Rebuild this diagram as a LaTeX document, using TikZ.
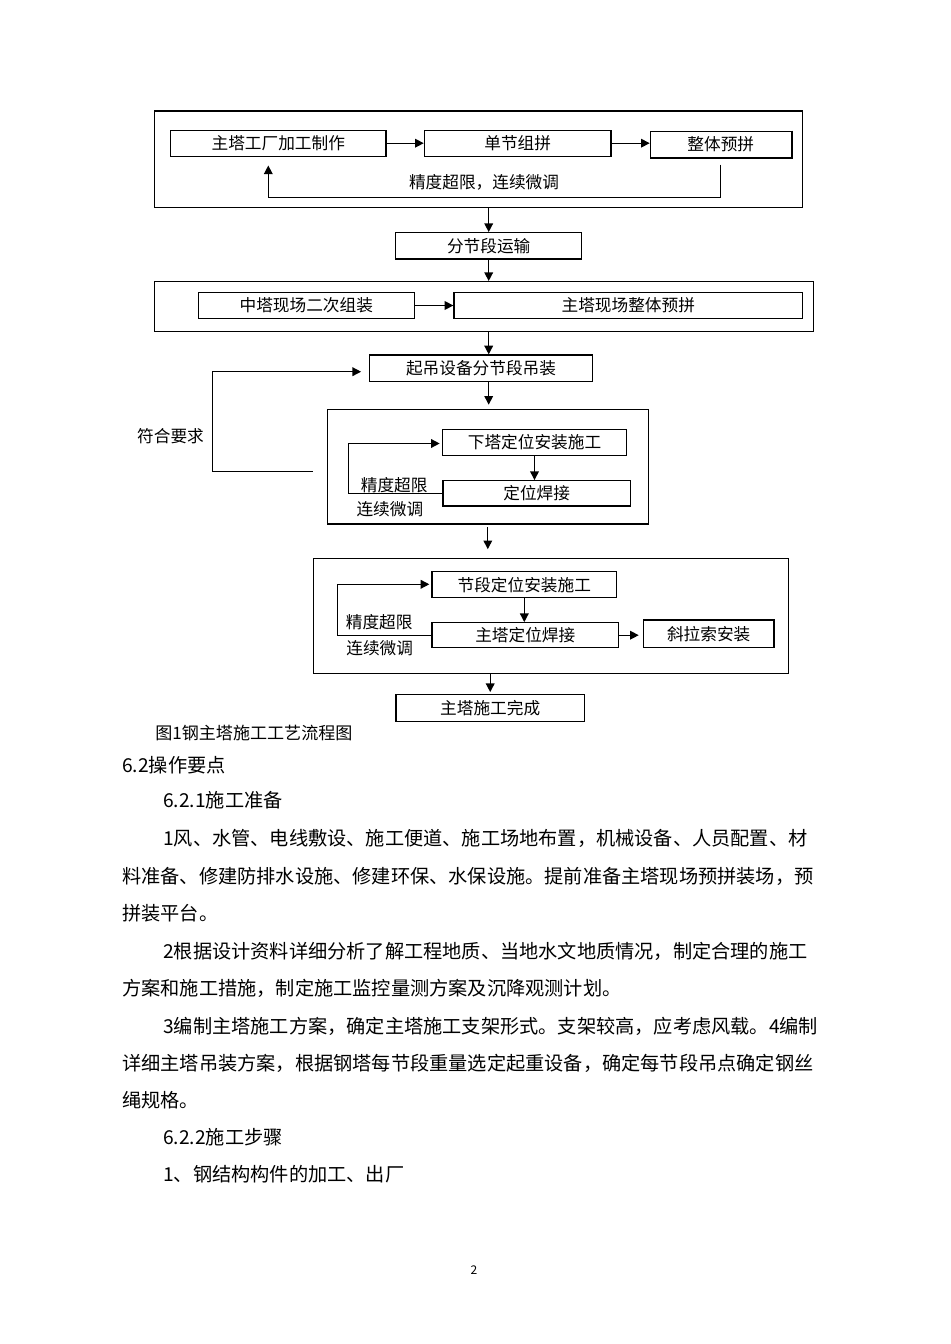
\documentclass[tikz,border=0pt]{standalone}
\usepackage{fontspec}
\setmainfont{Noto Sans CJK SC}
\usetikzlibrary{arrows.meta}
\newdimen\pxu \pxu=0.75pt
\tikzset{
  box/.style = {draw, line width=0.9pt, inner sep=0pt,
                minimum height=26\pxu, font=\fontsize{12.5}{14}\selectfont},
  frame/.style = {draw, line width=1pt, inner sep=0pt},
  arr/.style = {line width=1pt, -{Triangle[length=6.5pt,width=6.5pt]}},
  lbl/.style = {inner sep=0pt, font=\fontsize{12.5}{14}\selectfont},
  txt/.style = {anchor=west, inner sep=0pt, font=\fontsize{14.4}{16}\selectfont}
}

\begin{document}
\begin{tikzpicture}[x=0.75pt, y=-0.75pt]
	\useasboundingbox[fill=white] (0,0) rectangle (950,1344);
	
	% Factory
	\node[frame, minimum width=648\pxu, minimum height=96.3\pxu] (grp1) at (478.7,159.2) {};
	\node[box, minimum width=215.3\pxu] (fab) at (278.3,143.2) {主塔工厂加工制作};
	\node[box, minimum width=186.7\pxu] (unit) at (517.7,143.2) {单节组拼};
	\node[box, minimum width=141\pxu] (whole) at (720.8,144.3) {整体预拼};
	\draw[line width=1.6pt] (whole.north east) -- (whole.south east) -- (whole.south west);
	\draw[arr] (fab.east) -- (unit.west);
	\draw[arr] (unit.east) -- (unit.east -| whole.west);
	\coordinate (fb1) at (268.3,197.3);
	\draw[arr, shorten <=5pt, shorten >=6.5pt] (whole.south) |- (fb1) -- (fb1 |- fab.south);
	\node[lbl] (fb1txt) at (484,182.7) {精度超限，连续微调};
	
	% Transport
	\node[box, minimum width=186\pxu, minimum height=26.3\pxu] (trans) at (488.7,245.8) {分节段运输};
	\draw[arr] (trans.north |- grp1.south) -- (trans.north);
	
	% Site assembly
	\node[frame, minimum width=658.6\pxu, minimum height=50\pxu] (grp2) at (484,306.7) {};
	\draw[arr] (trans.south) -- (trans.south |- grp2.north);
	\node[box, minimum width=216\pxu] (mid) at (306.3,305.5) {中塔现场二次组装};
	\node[box, minimum width=348.7\pxu] (site) at (628.3,305.5) {主塔现场整体预拼};
	\draw[arr] (mid.east) -- (site.west);
	
	% Lifting
	\node[box, minimum width=223.4\pxu, minimum height=26.7\pxu] (lift) at (481,368.3) {起吊设备分节段吊装};
	\draw[arr] (trans.south |- grp2.south) -- (trans.south |- lift.north);
	
	% Lower tower
	\node[frame, minimum width=321\pxu, minimum height=114.7\pxu] (grp3) at (487.8,466.7) {};
	\draw[arr, shorten >=3pt] (trans.south |- lift.south) -- (trans.south |- grp3.north);
	\node[box, minimum width=184.4\pxu] (low) at (534.5,442.3) {下塔定位安装施工};
	\node[box, minimum width=187.3\pxu, minimum height=25.3\pxu] (weld) at (536.7,493.3) {定位焊接};
	\draw[arr] (low.south) -- (low.south |- weld.north);
	\coordinate (lp1) at (348.7,443.5);
	\draw[arr, shorten >=1.5pt] (weld.west) -| (lp1) -- (lp1 -| low.west);
	\node[lbl] (lp1a) at (394.2,485) {精度超限};
	\node[lbl] (lp1b) at (389.9,509.3) {连续微调};
	
	% Back to lifting
	\coordinate (ok0) at (312.7,471.3);
	\coordinate (ok1) at (212.3,371.7);
	\draw[arr, shorten >=5.7pt] (ok0) -| (ok1) -- (ok1 -| lift.west);
	\node[lbl] (oktxt) at (170.5,436) {符合要求};
	
	% Upper tower
	\node[frame, minimum width=475\pxu, minimum height=115.2\pxu] (grp4) at (550.8,616.1) {};
	\draw[arr, shorten <=2pt, shorten >=6.5pt] (grp3.south) -- (grp3.south |- grp4.north);
	\node[box, minimum width=184.7\pxu] (seg) at (524.3,584.7) {节段定位安装施工};
	\node[box, minimum width=186.7\pxu, minimum height=25\pxu] (twr) at (525.3,635.2) {主塔定位焊接};
	\node[box, minimum width=130.7\pxu, minimum height=27.3\pxu] (cable) at (708.7,633.7) {斜拉索安装};
	\draw[arr] (seg.south) -- (seg.south |- twr.north);
	\draw[arr, shorten >=3pt] (twr.east) -- (twr.east -| cable.west);
	\coordinate (lp2) at (337.7,584.3);
	\draw[arr, shorten >=1.5pt] (twr.west) -| (lp2) -- (lp2 -| seg.west);
	\node[lbl] (lp2a) at (379.2,621.7) {精度超限};
	\node[lbl] (lp2b) at (379.7,648.3) {连续微调};
	
	% Finish
	\node[box, minimum width=188.3\pxu, minimum height=27.4\pxu] (done) at (490.2,708) {主塔施工完成};
	\draw[arr, shorten >=1.2pt] (done.north |- grp4.south) -- (done.north);
	\node[txt, font=\fontsize{12.8}{14}\selectfont] (cap) at (155,732.7) {图1钢主塔施工工艺流程图};
	
	% Text
	\node[txt] (t1) at (122,765) {6.2操作要点};
	\node[txt] (t2) at (163,800) {6.2.1施工准备};
	\node[txt] (t3) at (163,838) {1风、水管、电线敷设、施工便道、施工场地布置，机械设备、人员配置、材};
	\node[txt] (t4) at (122,876) {料准备、修建防排水设施、修建环保、水保设施。提前准备主塔现场预拼装场，预};
	\node[txt] (t5) at (122,913) {拼装平台。};
	\node[txt] (t6) at (163,951) {2根据设计资料详细分析了解工程地质、当地水文地质情况，制定合理的施工};
	\node[txt] (t7) at (122,988) {方案和施工措施，制定施工监控量测方案及沉降观测计划。};
	\node[txt] (t8) at (163,1026) {3编制主塔施工方案，确定主塔施工支架形式。支架较高，应考虑风载。4编制};
	\node[txt] (t9) at (122,1063) {详细主塔吊装方案，根据钢塔每节段重量选定起重设备，确定每节段吊点确定钢丝};
	\node[txt] (t10) at (122,1100) {绳规格。};
	\node[txt] (t11) at (163,1137) {6.2.2施工步骤};
	\node[txt] (t12) at (163,1174) {1、钢结构构件的加工、出厂};
	\node[inner sep=0pt, font=\fontsize{9}{10}\selectfont] (pg) at (474,1270) {2};
	
\end{tikzpicture}
\end{document}
